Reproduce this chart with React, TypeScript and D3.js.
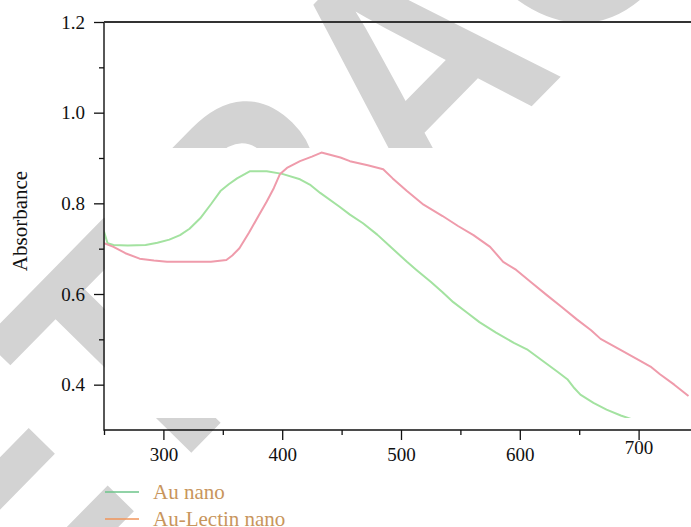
import * as d3 from "d3";
import React, { useRef, useEffect } from "react";

const width = 691;
const height = 527;

// Au nano (green)
const auWavelength = [
  250, 253, 258, 270, 285, 295, 305, 314, 322, 331, 340, 348, 355, 362, 373,
  387, 400, 415, 424, 432, 448, 457, 468, 480, 490, 505, 513, 525, 535, 544,
  556, 566, 580, 595, 606, 620, 632, 640, 646, 651, 662, 673, 685, 695,
];
const auAbsorbance = [
  0.738, 0.712, 0.708, 0.707, 0.708, 0.713, 0.72, 0.73, 0.744, 0.767, 0.798,
  0.827, 0.842, 0.855, 0.871, 0.871, 0.865, 0.853, 0.84, 0.823, 0.793, 0.775,
  0.756, 0.731, 0.707, 0.671, 0.653, 0.627, 0.604, 0.582, 0.558, 0.538, 0.515,
  0.492, 0.478, 0.451, 0.428, 0.412, 0.392, 0.378, 0.36, 0.345, 0.332, 0.323,
];

// Au-Lectin nano (red)
const lectinWavelength = [
  250, 258, 268, 280, 292, 303, 320, 340, 353, 358, 364, 372, 380, 387, 393,
  398, 404, 415, 425, 433, 449, 457, 472, 485, 493, 505, 519, 535, 548, 561,
  575, 586, 597, 610, 623, 635, 648, 660, 668, 684, 701, 710, 718, 730, 742,
];
const lectinAbsorbance = [
  0.712, 0.704, 0.69, 0.678, 0.674, 0.671, 0.671, 0.671, 0.675, 0.685, 0.701,
  0.735, 0.772, 0.804, 0.834, 0.864, 0.878, 0.893, 0.903, 0.912, 0.901, 0.893,
  0.884, 0.875, 0.855, 0.827, 0.797, 0.772, 0.75, 0.73, 0.704, 0.671, 0.653,
  0.625, 0.597, 0.572, 0.544, 0.52, 0.501, 0.478, 0.453, 0.44, 0.423, 0.4,
  0.375,
];

const xMajorTicks = [300, 400, 500, 600, 700];
const xMinorTicks = [250, 350, 450, 550, 650, 750];
const yMajorTicks = [0.4, 0.6, 0.8, 1.0, 1.2];
const yMinorTicks = [0.5, 0.7, 0.9, 1.1];

const seriesNames = ["Au nano", "Au-Lectin nano"];
const lineColors = ["#a3e2a0", "#ef9bab"];
const legendColors = ["#6cc48a", "#f0955a"];
const watermarkText = "RETRACTED";

const margin = { left: 104, top: 22, right: 691, bottom: 430 };
// the raster part of the original figure, which hides the watermark
const imageBox = { x: 105, y: 148, w: 586, h: 270 };

const serif = "'Liberation Serif', 'Times New Roman', serif";

const App = () => {
  const graphRef = useRef(null);

  useEffect(() => {
    const svg = d3.select(graphRef.current);
    svg.selectAll("*").remove();

    const xScale = d3.scaleLinear().domain([250, 750]).range([margin.left, 698]);
    const yScale = d3.scaleLinear().domain([0.3, 1.2]).range([margin.bottom, margin.top]);

    svg.append("rect").attr("width", width).attr("height", height).attr("fill", "#fff");

    // watermark, anchored on the baseline of its "A"
    svg
      .append("text")
      .attr("transform", "translate(419, 221) rotate(-45.5) scale(0.88,1)")
      .attr("x", -911)
      .attr("y", 0)
      .attr("letter-spacing", 3.2)
      .attr("font-family", "'Liberation Sans', Arial, sans-serif")
      .attr("font-weight", "bold")
      .attr("font-size", 330)
      .attr("fill", "#d3d3d3")
      .text(watermarkText);

    svg
      .append("rect")
      .attr("x", imageBox.x)
      .attr("y", imageBox.y)
      .attr("width", imageBox.w)
      .attr("height", imageBox.h)
      .attr("fill", "#fff");

    svg
      .append("clipPath")
      .attr("id", "plot-clip")
      .append("rect")
      .attr("x", margin.left)
      .attr("y", imageBox.y)
      .attr("width", imageBox.w + 1)
      .attr("height", imageBox.h);

    const line = d3
      .line()
      .x((d) => xScale(d[0]))
      .y((d) => yScale(d[1]));

    const series = [
      d3.zip(auWavelength, auAbsorbance),
      d3.zip(lectinWavelength, lectinAbsorbance),
    ];

    svg
      .append("g")
      .attr("clip-path", "url(#plot-clip)")
      .selectAll("path")
      .data(series)
      .join("path")
      .attr("d", line)
      .attr("fill", "none")
      .attr("stroke", (_, i) => lineColors[i])
      .attr("stroke-width", 2)
      .attr("stroke-linejoin", "round");

    // x-axis
    const xAxis = svg
      .append("g")
      .attr("transform", `translate(0, ${margin.bottom})`)
      .call(
        d3.axisBottom(xScale).tickValues(xMajorTicks).tickSize(10).tickPadding(8).tickFormat(d3.format("d"))
      );
    svg
      .append("g")
      .attr("class", "minor")
      .attr("transform", `translate(0, ${margin.bottom})`)
      .call(d3.axisBottom(xScale).tickValues(xMinorTicks).tickSize(5).tickFormat(() => ""));
    // the 700 label sits a bit higher in the original
    xAxis
      .selectAll("text")
      .filter((d) => d === 700)
      .attr("y", 11);

    // y-axis
    svg
      .append("g")
      .attr("transform", `translate(${margin.left}, 0)`)
      .call(
        d3.axisLeft(yScale).tickValues(yMajorTicks).tickSize(10).tickPadding(9).tickFormat(d3.format(".1f"))
      );
    svg
      .append("g")
      .attr("class", "minor")
      .attr("transform", `translate(${margin.left}, 0)`)
      .call(d3.axisLeft(yScale).tickValues(yMinorTicks).tickSize(5).tickFormat(() => ""));

    svg.selectAll(".domain").remove();
    svg
      .selectAll(".tick text")
      .attr("font-family", serif)
      .attr("font-size", 19)
      .attr("fill", "#111");
    svg.selectAll(".tick line").attr("stroke", "#111").attr("stroke-width", 1.3);

    // frame lines
    svg
      .append("path")
      .attr("d", `M${margin.left},${margin.top}V${margin.bottom}H${width}`)
      .attr("fill", "none")
      .attr("stroke", "#111")
      .attr("stroke-width", 1.4);
    svg
      .append("line")
      .attr("x1", margin.left)
      .attr("x2", width)
      .attr("y1", margin.top)
      .attr("y2", margin.top)
      .attr("stroke", "#333")
      .attr("stroke-width", 1.8);

    svg
      .append("text")
      .attr("transform", `translate(27, 221) rotate(-90)`)
      .attr("text-anchor", "middle")
      .attr("font-family", serif)
      .attr("font-size", 21)
      .attr("fill", "#111")
      .text("Absorbance");

    // legend
    const legend = svg
      .append("g")
      .selectAll("g")
      .data(seriesNames)
      .join("g")
      .attr("transform", (_, i) => `translate(105, ${492 + i * 27})`);
    legend
      .append("line")
      .attr("x2", 34)
      .attr("stroke", (_, i) => legendColors[i])
      .attr("stroke-width", 1.6);
    legend
      .append("text")
      .attr("x", 48)
      .attr("dy", "0.33em")
      .attr("font-family", serif)
      .attr("font-size", 21)
      .attr("fill", "#c8955c")
      .text((d) => d);
  }, []);

  return (
    <svg
      ref={graphRef}
      width={width}
      height={height}
      style={{ position: "absolute", left: 0, top: 0 }}
    ></svg>
  );
};

export default App;
